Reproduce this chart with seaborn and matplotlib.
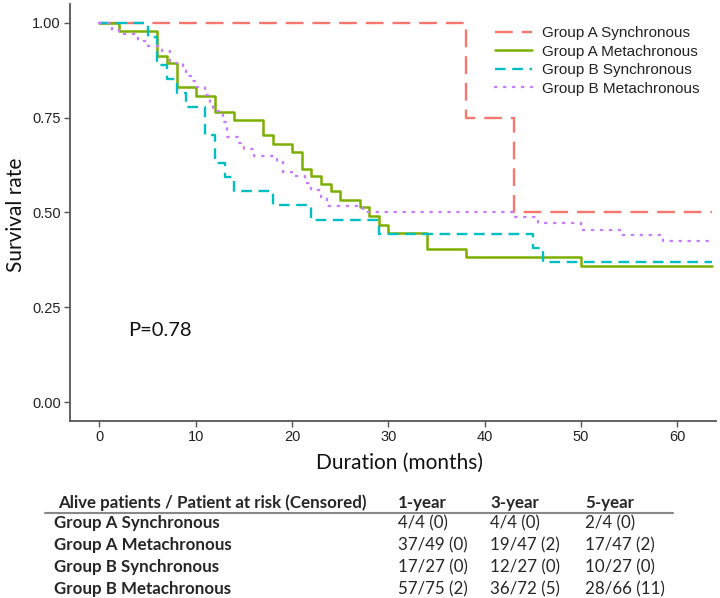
## Import Libraries
import numpy as np
import pandas as pd
import matplotlib
matplotlib.use("Agg")
import matplotlib.pyplot as plt
from matplotlib.lines import Line2D
import seaborn as sns

## Data
groups = ["Group A Synchronous", "Group A Metachronous",
          "Group B Synchronous", "Group B Metachronous"]

a_sync_t = [0, 38, 43, 63.6]
a_sync_s = [1.0, 0.75, 0.50, 0.50]

a_meta_t = [0, 2, 6, 7, 8, 10, 12, 14, 17, 18, 20, 21, 22, 23, 24, 25,
            27, 28, 29, 30, 34, 38, 50, 63.6]
a_meta_s = [1.0, 0.979, 0.914, 0.894, 0.831, 0.808, 0.765, 0.745, 0.705,
            0.682, 0.659, 0.615, 0.596, 0.576, 0.556, 0.534, 0.515, 0.49,
            0.466, 0.447, 0.404, 0.382, 0.36, 0.36]

b_sync_t = [0, 5, 6, 7, 8, 9, 11, 12, 13, 14, 18, 22, 29, 45, 46, 63.6]
b_sync_s = [1.0, 0.963, 0.889, 0.852, 0.815, 0.778, 0.704, 0.630, 0.593,
            0.556, 0.519, 0.481, 0.444, 0.407, 0.370, 0.370]

b_meta_t = [0, 1.3, 2, 4, 5, 6.5, 7.3, 8.7, 9, 9.5, 10, 11, 11.5, 11.8,
            12.8, 13.2, 14.4, 15, 16, 18.4, 19, 20, 21.3, 22, 23, 23.6,
            27.4, 43.1, 45.5, 50, 54, 58.5, 63.6]
b_meta_s = [1.0, 0.982, 0.970, 0.953, 0.938, 0.925, 0.894, 0.883, 0.859,
            0.847, 0.832, 0.81, 0.79, 0.767, 0.74, 0.70, 0.684, 0.668,
            0.650, 0.635, 0.606, 0.595, 0.579, 0.56, 0.54, 0.517, 0.50,
            0.487, 0.471, 0.455, 0.44, 0.424, 0.424]

p_text = "P=0.78"

table_header = ["Alive patients / Patient at risk (Censored)", "1-year", "3-year", "5-year"]
year1 = ["4/4 (0)", "37/49 (0)", "17/27 (0)", "57/75 (2)"]
year3 = ["4/4 (0)", "19/47 (2)", "12/27 (0)", "36/72 (5)"]
year5 = ["2/4 (0)", "17/47 (2)", "10/27 (0)", "28/66 (11)"]

## Build long table
frames = []
for g, t, s in zip(groups,
                   [a_sync_t, a_meta_t, b_sync_t, b_meta_t],
                   [a_sync_s, a_meta_s, b_sync_s, b_meta_s]):
    frames.append(pd.DataFrame({"time": t, "surv": s, "group": g}))
df = pd.concat(frames, ignore_index=True)

colors = ["#F8766D", "#7CAE00", "#00BFC4", "#C77CFF"]
dashes = [(7.5, 3.8), None, (4.5, 2.8), (0.6, 3.2)]
widths = [1.7, 1.8, 1.7, 1.7]

## Plot
sns.set_style("ticks")
plt.rcParams["font.family"] = ["Liberation Sans", "DejaVu Sans"]

W, H = 720, 598
fig = plt.figure(figsize=(7.2, 5.98), dpi=100)
ax = fig.add_axes([70 / W, (H - 421) / H, (716 - 70) / W, (421 - 4) / H])

for g, c, d, lw in zip(groups, colors, dashes, widths):
    sub = df[df["group"] == g]
    sns.lineplot(data=sub, x="time", y="surv", ax=ax, color=c,
                 estimator=None, sort=False, drawstyle="steps-post",
                 linewidth=lw, label=g)
    l = ax.get_lines()[-1]
    if d is not None:
        l.set_dashes(d)
        if d[0] < 1:
            l.set_dash_capstyle("round")

ax.set_xlim(-3.06, 64.0)
ax.set_ylim(-0.05, 1.05)
ax.set_xticks([0, 10, 20, 30, 40, 50, 60])
ax.set_yticks([0, 0.25, 0.5, 0.75, 1.0])
ax.set_yticklabels(["0.00", "0.25", "0.50", "0.75", "1.00"])
ax.tick_params(labelsize=10.5, length=4, width=1.0, color="#555555",
               labelcolor="#222222", pad=2.5)
for sp in ["left", "bottom"]:
    ax.spines[sp].set_color("#555555")
    ax.spines[sp].set_linewidth(1.3)
sns.despine(ax=ax)

ax.set_xlabel("")
ax.set_ylabel("")
fig.text(400 / W, 1 - 463 / H, "Duration (months)", family=["Lato", "DejaVu Sans"],
         fontsize=15, ha="center", va="center", color="#111111")
fig.text(16 / W, 1 - 215 / H, "Survival rate", family=["Lato", "DejaVu Sans"],
         fontsize=15, ha="center", va="center", rotation=90, color="#111111")

ax.text(3.0, 0.19, p_text, family=["Lato", "DejaVu Sans"], fontsize=14.5,
        ha="left", va="center", color="#111111")

leg = ax.legend(loc="upper left", bbox_to_anchor=(495 / W, 1 - 26 / H),
                bbox_transform=fig.transFigure, frameon=False, fontsize=11,
                handlelength=2.4, handletextpad=0.7, labelspacing=0.3,
                borderpad=0, borderaxespad=0)
for t in leg.get_texts():
    t.set_color("#222222")

## Table under the chart
tfam = ["Lato", "DejaVu Sans"]
tsize = 12.2
col_x = [58, 398, 490, 585]
fig.text(col_x[0] / W, 1 - 503 / H, table_header[0], family=tfam, fontsize=tsize,
         weight="bold", va="center", ha="left")
for cx, h in zip(col_x[1:], table_header[1:]):
    fig.text(cx / W, 1 - 503 / H, h, family=tfam, fontsize=tsize, weight="bold",
             va="center", ha="left")
fig.add_artist(Line2D([45 / W, 673 / W], [1 - 513 / H, 1 - 513 / H],
                      transform=fig.transFigure, color="#888888", lw=1.5))
row_y = [523, 545, 567, 589]
for i, g in enumerate(groups):
    fig.text(54 / W, 1 - row_y[i] / H, g, family=tfam, fontsize=tsize,
             weight="bold", va="center", ha="left")
    for cx, vals in zip(col_x[1:], [year1, year3, year5]):
        fig.text(cx / W, 1 - row_y[i] / H, vals[i], family=tfam, fontsize=tsize,
                 va="center", ha="left")

plt.savefig("out.png", dpi=100)
